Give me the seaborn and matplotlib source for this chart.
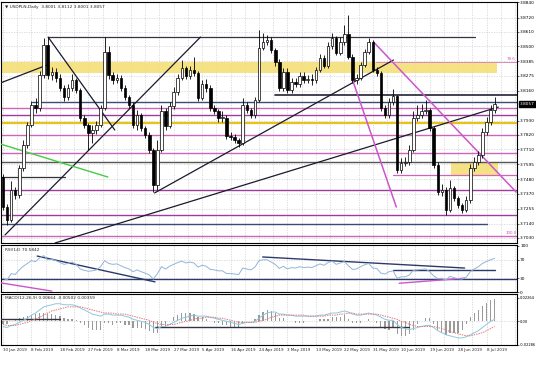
import numpy as np
import pandas as pd
import matplotlib
matplotlib.use("Agg")
import matplotlib.pyplot as plt
import seaborn as sns

# ---------------- data ----------------
title = "\u25bc USDPLN,Daily  3.8001 3.8112 3.8001 3.8057"
rsi_title = "RSI(14) 70.5842"
macd_title = "MACD(12,26,9) 0.00664 -0.00502 0.00359"
date_labels = ["30 Jan 2019", "8 Feb 2019", "18 Feb 2019", "27 Feb 2019", "8 Mar 2019",
               "18 Mar 2019", "27 Mar 2019", "5 Apr 2019", "16 Apr 2019", "24 Apr 2019",
               "3 May 2019", "13 May 2019", "22 May 2019", "31 May 2019", "10 Jun 2019",
               "19 Jun 2019", "28 Jun 2019", "8 Jul 2019"]
first_open = 3.7497
closes = [3.7267, 3.7168, 3.7398, 3.7359, 3.7566, 3.7743, 3.7896, 3.8050, 3.8027, 3.8280,
          3.8510, 3.8280, 3.8303, 3.8257, 3.8180, 3.8111, 3.8180, 3.8241, 3.8165, 3.7950,
          3.7896, 3.7835, 3.7858, 3.7896, 3.8027, 3.8456, 3.8280, 3.8241, 3.8257, 3.8180,
          3.8111, 3.8050, 3.7896, 3.7973, 3.7873, 3.7820, 3.7705, 3.7436, 3.7705, 3.8004,
          3.7889, 3.8042, 3.8149, 3.8257, 3.8333, 3.8272, 3.8318, 3.8295, 3.8103, 3.8211,
          3.8180, 3.8027, 3.8004, 3.7950, 3.7950, 3.7812, 3.7804, 3.7781, 3.7758, 3.8050,
          3.8011, 3.7973, 3.8088, 3.8487, 3.8533, 3.8548, 3.8472, 3.8379, 3.8180, 3.8303,
          3.8165, 3.8226, 3.8211, 3.8272, 3.8241, 3.8249, 3.8241, 3.8318, 3.8410, 3.8349,
          3.8502, 3.8564, 3.8448, 3.8533, 3.8594, 3.8418, 3.8241, 3.8257, 3.8356, 3.8456,
          3.8533, 3.8318, 3.8295, 3.8027, 3.7973, 3.8073, 3.8119, 3.7551, 3.7605, 3.7612,
          3.7705, 3.7950, 3.7973, 3.8004, 3.8011, 3.7873, 3.7590, 3.7382, 3.7398, 3.7244,
          3.7413, 3.7336, 3.7283, 3.7244, 3.7321, 3.7566, 3.7612, 3.7666, 3.7843, 3.7919,
          3.8011, 3.8057]
highs = [3.7520, 3.7290, 3.7470, 3.7420, 3.7590, 3.7780, 3.7920, 3.8080, 3.8100, 3.8310,
         3.8565, 3.8570, 3.8340, 3.8330, 3.8290, 3.8200, 3.8210, 3.8290, 3.8260, 3.8180,
         3.7970, 3.7910, 3.7900, 3.7930, 3.8050, 3.8570, 3.8500, 3.8300, 3.8290, 3.8280,
         3.8200, 3.8130, 3.8070, 3.8010, 3.7990, 3.7890, 3.7840, 3.7720, 3.7781, 3.8050,
         3.8030, 3.8070, 3.8190, 3.8290, 3.8395, 3.8350, 3.8350, 3.8418, 3.8310, 3.8240,
         3.8250, 3.8200, 3.8050, 3.8020, 3.8000, 3.7970, 3.7840, 3.7830, 3.7800, 3.8103,
         3.8070, 3.8030, 3.8110, 3.8625, 3.8602, 3.8590, 3.8570, 3.8490, 3.8400, 3.8330,
         3.8330, 3.8260, 3.8260, 3.8300, 3.8300, 3.8280, 3.8290, 3.8340, 3.8440, 3.8430,
         3.8530, 3.8600, 3.8580, 3.8570, 3.8664, 3.8740, 3.8440, 3.8290, 3.8380, 3.8480,
         3.8560, 3.8548, 3.8340, 3.8310, 3.8050, 3.8100, 3.8170, 3.8130, 3.7640, 3.7650,
         3.7740, 3.8000, 3.8050, 3.8060, 3.8088, 3.8030, 3.7890, 3.7610, 3.7440, 3.7420,
         3.7474, 3.7430, 3.7350, 3.7300, 3.7350, 3.7600, 3.7650, 3.7700, 3.7870, 3.7960,
         3.8050, 3.8111]
lows = [3.7245, 3.7130, 3.7150, 3.7330, 3.7340, 3.7540, 3.7720, 3.7880, 3.7990, 3.8000,
        3.8260, 3.8250, 3.8240, 3.8230, 3.8160, 3.8080, 3.8090, 3.8160, 3.8140, 3.7930,
        3.7870, 3.7705, 3.7760, 3.7830, 3.7880, 3.8010, 3.8250, 3.8210, 3.8220, 3.8160,
        3.8090, 3.8030, 3.7870, 3.7860, 3.7850, 3.7800, 3.7680, 3.7382, 3.7400, 3.7690,
        3.7860, 3.7870, 3.8020, 3.8130, 3.8240, 3.8250, 3.8250, 3.8270, 3.8080, 3.8090,
        3.8150, 3.8000, 3.7980, 3.7920, 3.7920, 3.7790, 3.7780, 3.7760, 3.7730, 3.7740,
        3.7990, 3.7950, 3.7950, 3.8070, 3.8470, 3.8510, 3.8450, 3.8350, 3.8160, 3.8160,
        3.8140, 3.8140, 3.8190, 3.8190, 3.8220, 3.8220, 3.8200, 3.8220, 3.8300, 3.8330,
        3.8330, 3.8480, 3.8430, 3.8430, 3.8510, 3.8400, 3.8220, 3.8210, 3.8240, 3.8340,
        3.8440, 3.8300, 3.8270, 3.8000, 3.7950, 3.7950, 3.8050, 3.7530, 3.7530, 3.7580,
        3.7590, 3.7690, 3.7930, 3.7950, 3.7980, 3.7850, 3.7570, 3.7360, 3.7350, 3.7206,
        3.7230, 3.7310, 3.7260, 3.7220, 3.7230, 3.7300, 3.7540, 3.7590, 3.7640, 3.7820,
        3.7900, 3.7990]
rsi = [30, 26, 40, 38, 48, 56, 62, 68, 66, 74, 79, 70, 71, 68, 64, 60, 62, 65, 60, 50,
       47, 45, 46, 48, 55, 68, 62, 60, 61, 57, 53, 50, 44, 48, 44, 41, 37, 28, 40, 55,
       50, 56, 60, 64, 67, 63, 65, 63, 54, 58, 56, 49, 48, 46, 46, 40, 40, 39, 38, 52,
       50, 48, 54, 68, 70, 70, 65, 60, 51, 56, 50, 53, 52, 55, 53, 54, 53, 57, 61, 58,
       64, 67, 60, 63, 66, 57, 49, 50, 55, 59, 62, 52, 51, 41, 39, 44, 46, 30, 33, 33,
       37, 47, 48, 49, 50, 44, 35, 29, 30, 26, 34, 31, 29, 28, 32, 44, 50, 55, 62, 66,
       70, 73]
macd_main = [-5, -6, -4, -3, -1, 1, 3, 6, 8, 11, 14, 15, 16, 17, 17, 16, 16, 16, 15, 13,
             11, 9, 7, 6, 5, 7, 7, 6, 6, 6, 5, 4, 2, 1, 0, -1, -3, -6, -7, -5,
             -5, -3, -1, 1, 3, 4, 5, 6, 5, 5, 5, 4, 3, 2, 1, 0, -1, -2, -3, -2,
             -1, -1, 0, 3, 6, 8, 9, 9, 7, 7, 6, 6, 5, 5, 5, 5, 5, 5, 6, 6,
             7, 8, 8, 9, 10, 9, 7, 6, 6, 7, 8, 7, 6, 4, 2, 1, 1, -3, -6, -7,
             -8, -7, -6, -5, -4, -4, -6, -9, -11, -13, -14, -15, -16, -16, -15, -13, -11, -9, -6, -3,
             0, 2]
macd_signal = [-3, -4, -4, -4, -3, -2, -1, 1, 2, 4, 6, 8, 10, 11, 12, 13, 14, 14, 14, 14,
               13, 12, 11, 10, 9, 8, 8, 8, 7, 7, 7, 6, 5, 4, 3, 2, 1, -1, -2, -3,
               -3, -3, -3, -2, -1, 0, 1, 2, 3, 3, 4, 4, 4, 3, 3, 2, 1, 0, -1, -1,
               -1, -1, -1, 0, 1, 2, 4, 5, 6, 6, 6, 6, 6, 6, 6, 5, 5, 5, 5, 5,
               6, 6, 6, 7, 7, 8, 8, 7, 7, 7, 7, 7, 7, 6, 5, 4, 3, 2, 0, -1,
               -3, -4, -5, -5, -5, -5, -5, -6, -7, -8, -10, -11, -12, -13, -14, -14, -13, -12, -11, -9,
               -7, -5]
macd_hist = [-3, -3, 0, 2, 3, 4, 5, 6, 7, 8, 8, 7, 7, 6, 5, 3, 2, 2, 1, -2,
             -4, -6, -8, -8, -8, -2, -2, -4, -2, -2, -4, -4, -6, -6, -6, -7, -9, -11, -11, -5,
             -5, 0, 4, 6, 8, 8, 8, 7, 4, 4, 2, 0, -2, -2, -4, -4, -5, -5, -5, -2,
             0, 0, 2, 6, 9, 11, 10, 8, 3, 3, 0, 0, -2, -2, -2, 0, 0, 0, 2, 2,
             2, 4, 4, 4, 6, 2, -2, -2, -2, 0, 2, 0, -2, -5, -7, -8, -6, -12, -14, -14,
             -12, -8, -3, 0, 3, 3, -3, -8, -11, -13, -11, -11, -11, -8, -3, 4, 8, 11, 15, 18,
             21, 22]
price_ticks = [3.8840, 3.8720, 3.8610, 3.8500, 3.8385, 3.8275, 3.8160, 3.7930, 3.7820,
               3.7710, 3.7595, 3.7480, 3.7370, 3.7255, 3.7140, 3.7030]
last_price = 3.8057
rsi_ticks = [100, 70, 30, 0]
macd_ticks = [0.02264, 0.0, -0.02286]
macd_tick_labels = ["0.02264", "0.00", "-0.02286"]

# horizontal levels (price) and zones
full_levels_pink = [3.8027, 3.7820, 3.7682, 3.7045]
full_levels_purple = [3.7974, 3.7398, 3.7206]
gold_level = 3.7912
navy_level = 3.8073
gray_level = 3.7612
top_black_level = 3.8571
right_black_level = 3.8126
left_black_level = 3.7497
low_navy_level = 3.7137
box_pink_level = 3.7513
fib_top_level = 3.8379
yellow_zone = (3.8295, 3.8379)
small_zone = (3.7513, 3.7605)
black_trends = [(11.1, 3.8571, 27.5, 3.7858), (0.5, 3.7053, 48.6, 3.8571),
                (-0.7, 3.8218, 10.8, 3.8356), (12.8, 3.6991, 121.9, 3.8034),
                (37.3, 3.7375, 96.1, 3.8395)]
green_trend = (-0.7, 3.7751, 25.8, 3.7497)
pink_trends = [(91.2, 3.8533, 126.3, 3.7382), (86.2, 3.8226, 96.8, 3.7267)]
rsi_navy_trends = [(8.4, 78, 37.4, 22), (63.9, 76, 113.6, 52)]
rsi_pink_trends = [(-0.7, 20, 12.0, 2), (97.5, 19, 113.6, 30)]

# ---------------- figure ----------------
sns.set_style("white")
plt.rcParams["font.family"] = ["DejaVu Sans"]
W, H = 536, 378
fig = plt.figure(figsize=(W / 100, H / 100), dpi=100)
fig.patch.set_facecolor("white")


def px_axes(x0, y0, x1, y1):
    return fig.add_axes([x0 / W, 1 - y1 / H, (x1 - x0) / W, (y1 - y0) / H])


ax = px_axes(1, 2, 517, 243)
ax_r = px_axes(1, 245, 517, 292)
ax_m = px_axes(1, 294, 517, 345)

n = len(closes)
idx = np.arange(n)
opens = [first_open] + closes[:-1]
df = pd.DataFrame({"i": idx, "open": opens, "close": closes, "high": highs, "low": lows})
XL = (-0.5, 126.5)
FS = 3.1
grid_kw = dict(color="#c9c9c9", lw=0.45, ls=(0, (2, 2)), zorder=0)
vgrid = np.arange(0, 127, 3.5)

for a in (ax, ax_r, ax_m):
    a.set_xlim(*XL)
    for s in a.spines.values():
        s.set_color("black")
        s.set_linewidth(0.8)
    for xv in vgrid:
        a.axvline(xv, **grid_kw)
    a.yaxis.tick_right()
    a.tick_params(axis="y", labelsize=FS, length=1.2, width=0.4, pad=1.0, colors="black")
    a.tick_params(axis="x", length=0)
    a.set_xticks([])

# ----- main panel -----
ax.set_ylim(3.6991, 3.8840)
for p in price_ticks:
    ax.axhline(p, **grid_kw)
ax.set_yticks(price_ticks)
ax.set_yticklabels([f"{p:.4f}" for p in price_ticks])

ax.axhspan(*yellow_zone, xmin=0, xmax=(121.6 - XL[0]) / (XL[1] - XL[0]), color="#f3df78", alpha=0.9, lw=0, zorder=1)
ax.fill_between([110.3, 121.8], small_zone[0], small_zone[1], color="#f3df78", alpha=0.9, lw=0, zorder=1)

for p in full_levels_pink:
    ax.axhline(p, color="#cc66bb", lw=1.0, zorder=2)
for p in full_levels_purple:
    ax.axhline(p, color="#9c3c9c", lw=1.0, zorder=2)
ax.axhline(gold_level, color="#e8c21c", lw=1.6, zorder=2)
ax.axhline(navy_level, color="#3c4a78", lw=1.0, xmin=0.06, zorder=2)
ax.axhline(gray_level, color="#555555", lw=1.0, zorder=2)
ax.plot([11.1, 116.2], [top_black_level] * 2, color="#333344", lw=0.9, zorder=2)
ax.plot([67.0, 126.5], [right_black_level] * 2, color="#222233", lw=1.2, zorder=2)
ax.plot([-0.7, 15.2], [left_black_level] * 2, color="#333333", lw=0.9, zorder=2)
ax.plot([-0.7, 119.0], [low_navy_level] * 2, color="#3c4a78", lw=1.0, zorder=2)
ax.plot([96.1, 126.5], [box_pink_level] * 2, color="#cc66bb", lw=0.9, zorder=2)
ax.plot([91.7, 126.5], [fib_top_level] * 2, color="#dd88bb", lw=0.7, zorder=2)

for (x0, y0, x1, y1) in black_trends:
    ax.plot([x0, x1], [y0, y1], color="#1a1a2e", lw=0.9, zorder=5)
ax.plot(green_trend[::2], green_trend[1::2], color="#44cc44", lw=1.0, zorder=5)
for (x0, y0, x1, y1) in pink_trends:
    ax.plot([x0, x1], [y0, y1], color="#cc55cc", lw=1.1, zorder=5)

up = df["close"] >= df["open"]
bottoms = np.minimum(df["open"], df["close"])
heights = np.maximum(np.abs(df["close"] - df["open"]), 0.0004)
ax.vlines(df["i"], df["low"], df["high"], color="black", lw=0.6, zorder=6)
ax.bar(df["i"][up], heights[up], bottom=bottoms[up], width=0.62, color="white",
       edgecolor="black", lw=0.5, zorder=7)
ax.bar(df["i"][~up], heights[~up], bottom=bottoms[~up], width=0.62, color="black",
       edgecolor="black", lw=0.5, zorder=7)

ax.text(0.6, 3.8805, title, fontsize=FS, va="center", ha="left", zorder=9)
ax.text(124.0, fib_top_level + 0.0008, "78.6", fontsize=FS - 0.3, color="#cc55aa", ha="left", va="bottom")
ax.text(123.6, 3.7045 + 0.0008, "100.0", fontsize=FS - 0.3, color="#cc55aa", ha="left", va="bottom")
ax.text(1.006, last_price, f"{last_price:.4f}", transform=ax.get_yaxis_transform(),
        fontsize=FS, color="white", ha="left", va="center",
        bbox=dict(boxstyle="square,pad=0.15", fc="black", ec="black"), clip_on=False, zorder=10)

# ----- RSI panel -----
ax_r.set_ylim(0, 102)
ax_r.set_yticks(rsi_ticks)
ax_r.set_yticklabels([str(t) for t in rsi_ticks])
ax_r.axhline(70, **grid_kw)
ax_r.axhline(30, **grid_kw)
ax_r.axhline(28, color="#2c3a6a", lw=1.0, zorder=2)
ax_r.plot([96.1, 121.0], [48, 48], color="#2c3a6a", lw=1.0, zorder=2)
for (x0, y0, x1, y1) in rsi_navy_trends:
    ax_r.plot([x0, x1], [y0, y1], color="#2c3a6a", lw=1.0, zorder=3)
for (x0, y0, x1, y1) in rsi_pink_trends:
    ax_r.plot([x0, x1], [y0, y1], color="#cc55cc", lw=1.0, zorder=3)
sns.lineplot(x=idx, y=rsi, ax=ax_r, color="#93b5d8", lw=0.7, zorder=4)
ax_r.set_xlabel("")
ax_r.set_ylabel("")
ax_r.text(0.6, 92, rsi_title, fontsize=FS, va="center", ha="left")

# ----- MACD panel -----
ax_m.set_ylim(-0.02286, 0.0264)
ax_m.set_yticks(macd_ticks)
ax_m.set_yticklabels(macd_tick_labels)
ax_m.tick_params(axis="y", labelsize=2.6, pad=0.6)
for lab in ax_m.get_yticklabels():
    lab.set_fontsize(2.6)
ax_m.axhline(0, **grid_kw)
hist = np.array(macd_hist) / 1000.0
ax_m.bar(idx, hist, width=0.3, color="#9a9a9a", lw=0, zorder=2)
ax_m.plot([-0.7, 14.0], [0.0022, 0.0022], color="#333344", lw=1.0, zorder=3)
ax_m.plot([37.5, 100.0], [-0.0055, -0.0055], color="#333344", lw=1.0, zorder=3)
sns.lineplot(x=idx, y=np.array(macd_main) / 1000.0, ax=ax_m, color="#8cc8e0", lw=0.7, zorder=4)
sns.lineplot(x=idx, y=np.array(macd_signal) / 1000.0, ax=ax_m, color="#e07a7a", lw=0.7,
             ls=(0, (1.5, 1)), zorder=4)
ax_m.set_xlabel("")
ax_m.set_ylabel("")
ax_m.text(0.6, 0.0222, macd_title, fontsize=FS, va="center", ha="left")

ax_m.set_xticks(np.arange(0, 7 * len(date_labels), 7))
ax_m.set_xticklabels(date_labels, fontsize=FS - 0.2, ha="left")
ax_m.tick_params(axis="x", length=0, pad=2.0)

fig.savefig("out.png", dpi=100, facecolor="white")
